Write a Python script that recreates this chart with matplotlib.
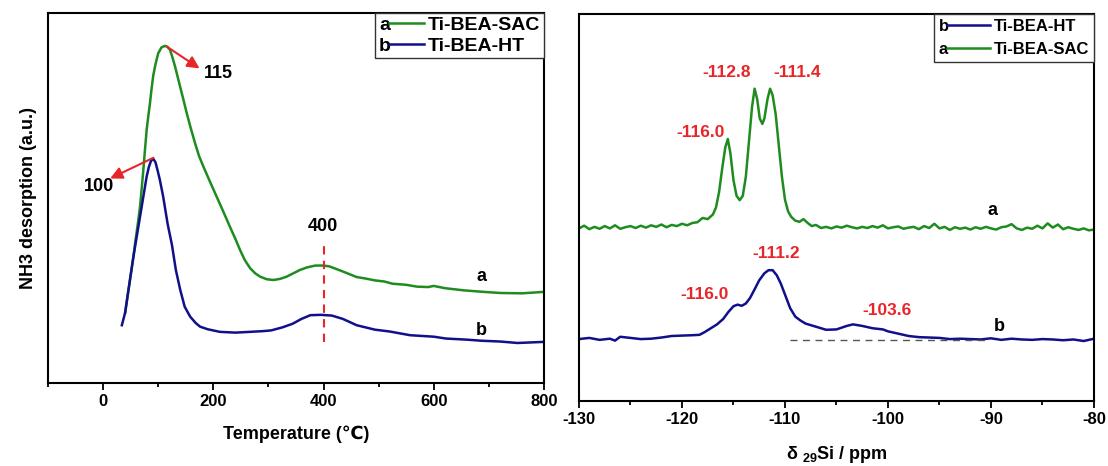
import numpy as np
import matplotlib
matplotlib.use("Agg")
import matplotlib.pyplot as plt
from matplotlib.ticker import MultipleLocator
from matplotlib.legend_handler import HandlerBase
from matplotlib.lines import Line2D
from matplotlib.text import Text

plt.rcParams['font.family'] = ['Liberation Sans', 'DejaVu Sans']
plt.rcParams['font.weight'] = 'bold'
plt.rcParams['axes.labelweight'] = 'bold'
plt.rcParams['axes.unicode_minus'] = False
plt.rcParams['mathtext.fontset'] = 'custom'
plt.rcParams['mathtext.rm'] = 'Liberation Sans:bold'
plt.rcParams['mathtext.default'] = 'rm'

GREEN = '#1e8c1e'
NAVY = '#10108a'
RED = '#e8262a'

# --- NH3-TPD (left panel) ---
tpd_a_T = [40, 46, 55, 58, 63, 67, 70, 73, 76, 79, 82, 85, 88, 91, 95, 100, 106, 112.5,
           117, 121.5, 126, 130.6, 135, 139.7, 146, 151.8, 159, 166.9, 174, 182, 194,
           206, 218, 230, 240, 248.5, 257, 266.7, 276, 285, 297, 309, 321, 333, 345, 357,
           370, 385, 399, 410, 421, 440, 460, 476, 493, 510, 525, 550, 570, 590, 600,
           620, 655, 690, 720, 760, 800]
tpd_a_I = [19, 25.1, 34.1, 37.7, 43, 47.6, 52.5, 57.5, 63, 68.3, 72, 75.5, 79.5, 83, 86,
           89, 90.6, 91.0, 90.7, 89.9, 87.8, 85.4, 82.8, 80.0, 76.3, 72.8, 68.8, 64.7,
           61.3, 58.4, 54.3, 50.3, 46.3, 42.2, 38.9, 35.9, 33.2, 31.0, 29.6, 28.7, 28.0,
           27.8, 28.1, 28.7, 29.6, 30.5, 31.2, 31.7, 31.7, 31.5, 30.9, 29.8, 28.6, 28.2,
           27.7, 27.4, 26.8, 26.5, 26.0, 25.9, 26.2, 25.6, 25, 24.6, 24.3, 24.2, 24.6]

tpd_b_T = [34, 40, 46, 55, 67, 79, 83, 87, 91, 95, 99, 103, 109, 117, 125, 132, 140, 148,
           158, 168, 176, 190, 212, 240, 266, 290, 305, 325, 344, 360, 376, 395, 415,
           435, 460, 493, 520, 557, 600, 622, 660, 687, 720, 752, 800]
tpd_b_I = [15.6, 19, 25.1, 34.1, 44.9, 55.7, 58.3, 60.0, 60.5, 59.6, 57.3, 54.8, 50.3, 43,
           37.2, 30.5, 25.1, 20.6, 17.9, 16.2, 15.2, 14.5, 13.8, 13.6, 13.8, 14.0, 14.2,
           15.0, 16.0, 17.3, 18.3, 18.4, 18.2, 17.3, 15.6, 14.4, 13.9, 12.9, 12.5, 12,
           11.7, 11.4, 11.2, 10.8, 11.1]

# --- 29Si NMR (right panel) ---
nmr_a_ppm = [-130, -129.5, -129, -128.5, -128, -127.5, -127, -126.5, -126, -125.5, -125,
             -124.5, -124, -123.5, -123, -122.5, -122, -121.5, -121, -120.5, -120, -119.5,
             -119, -118.5, -118, -117.5, -117, -116.7, -116.4, -116.1, -115.8, -115.55,
             -115.3, -115.0, -114.7, -114.4, -114.1, -113.8, -113.5, -113.2, -112.95,
             -112.7, -112.45, -112.2, -112.0, -111.7, -111.45, -111.2, -110.9, -110.6,
             -110.3, -110.0, -109.7, -109.4, -109.0, -108.6, -108.2, -107.8, -107.4, -107,
             -106.5, -106, -105.5, -105, -104.5, -104, -103.5, -103, -102.5, -102, -101.5,
             -101, -100.5, -100, -99.5, -99, -98.5, -98, -97.5, -97, -96.5, -96, -95.5,
             -95, -94.5, -94, -93.5, -93, -92.5, -92, -91.5, -91, -90.5, -90, -89.5, -89,
             -88.5, -88, -87.5, -87, -86.5, -86, -85.5, -85, -84.5, -84, -83.5, -83, -82.5,
             -82, -81.5, -81, -80.5, -80]
nmr_a_I = [44.6, 45.3, 44.4, 45.0, 44.5, 45.2, 44.6, 45.4, 44.5, 44.9, 45.2, 44.7, 45.3,
           44.8, 45.4, 45.0, 45.6, 44.9, 45.5, 45.2, 45.8, 45.4, 46.0, 46.2, 47.3, 47.0,
           48.2, 50.0, 54, 60, 65.5, 67.7, 64, 57, 53, 51.9, 53, 58, 67, 76, 80.7, 78, 73,
           71.6, 73, 78, 80.7, 79, 74, 66, 58, 52, 49, 47.6, 46.6, 46.3, 47.0, 46.0, 45.2,
           45.5, 44.7, 45.0, 44.6, 45.1, 44.8, 45.3, 44.9, 44.6, 45.0, 44.7, 45.2, 44.8,
           45.4, 44.6, 44.9, 45.1, 44.5, 44.8, 45.0, 44.4, 45.2, 44.7, 45.8, 44.6, 45.0,
           44.2, 44.9, 44.5, 44.8, 44.3, 44.9, 44.5, 45.0, 44.6, 44.3, 44.9, 45.1, 45.7,
           44.6, 44.2, 44.8, 44.5, 45.3, 44.6, 45.9, 44.8, 45.6, 44.4, 44.9, 44.5, 44.2,
           44.6, 44.1, 44.3]

nmr_b_ppm = [-130, -129, -128, -127, -126.5, -126, -125, -124, -123, -122, -121, -120,
             -119, -118.3, -117.8, -117.2, -116.6, -116, -115.5, -115.0, -114.6, -114.2,
             -113.8, -113.4, -113.0, -112.5, -112.0, -111.6, -111.2, -110.8, -110.4,
             -110.0, -109.5, -109.0, -108.5, -108, -107, -106, -105, -104, -103.4, -102.5,
             -101.5, -100.5, -100, -99, -98, -97, -96, -95, -94, -93, -92, -91, -90, -89,
             -88, -87, -86, -85, -84, -83, -82, -81, -80]
nmr_b_I = [16.0, 16.3, 15.8, 16.1, 15.6, 16.6, 16.3, 16.0, 16.1, 16.4, 16.8, 16.9, 17.0,
           17.1, 17.8, 18.8, 19.8, 21.2, 23.0, 24.5, 24.9, 24.6, 25.2, 26.6, 28.6, 31.2,
           33.0, 33.8, 33.8, 32.5, 30.3, 27.5, 24.0, 21.8, 20.8, 20.0, 19.2, 18.4, 18.5,
           19.4, 19.8, 19.4, 18.8, 18.5, 18.0, 17.4, 16.8, 16.5, 16.4, 16.3, 16.0, 16.1,
           16.0, 15.9, 16.2, 15.8, 16.1, 15.9, 15.8, 16.0, 15.9, 15.7, 15.9, 15.5, 16.1]

nmr_labels = ['-112.8', '-111.4', '-116.0', '-111.2', '-116.0', '-103.6']
nmr_label_x = [-115.7, -108.8, -118.2, -110.85, -117.8, -100.1]
nmr_label_y = [85, 85, 69.3, 38.1, 27.4, 23.4]


class LetterLine(HandlerBase):
    """Legend handle drawn as 'a——' like the Origin export."""
    def __init__(self, letter):
        super().__init__()
        self.letter = letter

    def create_artists(self, legend, orig_handle, xdescent, ydescent, width, height,
                       fontsize, trans):
        y = height / 2 - ydescent
        x0 = -xdescent
        txt = Text(x0, y - 0.36 * fontsize, self.letter, fontsize=fontsize,
                   fontweight='bold', va='baseline', ha='left', transform=trans)
        line = Line2D([x0 + 0.52 * fontsize, x0 + width], [y, y],
                      color=orig_handle.get_color(), lw=orig_handle.get_linewidth(),
                      transform=trans)
        return [txt, line]


def style_axes(ax):
    for s in ax.spines.values():
        s.set_linewidth(1.5)
    ax.set_yticks([])
    ax.tick_params(axis='x', which='major', direction='out', length=5, width=1.3,
                   labelsize=12, pad=3)
    ax.tick_params(axis='x', which='minor', direction='out', length=3, width=1.3)


fig = plt.figure(figsize=(11.08, 4.66), dpi=100)
ax1 = fig.add_axes([0.04332, 0.17811, 0.44765, 0.79506])
ax2 = fig.add_axes([0.52256, 0.13948, 0.46480, 0.83047])

# left: NH3-TPD
la, = ax1.plot(tpd_a_T, tpd_a_I, color=GREEN, lw=1.8)
lb, = ax1.plot(tpd_b_T, tpd_b_I, color=NAVY, lw=1.8)
ax1.set_xlim(-100, 800)
ax1.set_ylim(0, 100)
ax1.xaxis.set_major_locator(MultipleLocator(200))
ax1.xaxis.set_minor_locator(MultipleLocator(100))
style_axes(ax1)
ax1.set_xlabel('Temperature (℃)', fontsize=13, labelpad=12)
ax1.set_ylabel('NH3 desorption (a.u.)', fontsize=13, labelpad=8)

ax1.plot([400, 400], [11.1, 37.2], color=RED, lw=1.5, ls=(0, (4, 3)))
ax1.text(399, 42.2, '400', fontsize=13, ha='center', va='center')
ax1.annotate('', xy=(175, 84.9), xytext=(115.5, 90.8),
             arrowprops=dict(arrowstyle='-|>', color=RED, lw=1.5,
                             mutation_scale=18, shrinkA=0, shrinkB=0))
ax1.text(210, 83.6, '115', fontsize=13, ha='center', va='center')
ax1.annotate('', xy=(12.7, 55.2), xytext=(91.3, 60.8),
             arrowprops=dict(arrowstyle='-|>', color=RED, lw=1.5,
                             mutation_scale=18, shrinkA=0, shrinkB=0))
ax1.text(-7.3, 53, '100', fontsize=13, ha='center', va='center')
ax1.text(686, 28.7, 'a', fontsize=13, ha='center', va='center')
ax1.text(687, 14.3, 'b', fontsize=13, ha='center', va='center')

leg1 = ax1.legend([la, lb], ['Ti-BEA-SAC', 'Ti-BEA-HT'], loc='upper right',
                  handler_map={la: LetterLine('a'), lb: LetterLine('b')},
                  fontsize=14, handlelength=2.3, handletextpad=0.2,
                  labelspacing=0.15, borderpad=0.2, borderaxespad=0,
                  fancybox=False, framealpha=1, edgecolor='#333333')
leg1.get_frame().set_linewidth(1.0)

# right: 29Si MAS NMR
ra, = ax2.plot(nmr_a_ppm, nmr_a_I, color=GREEN, lw=1.8)
rb, = ax2.plot(nmr_b_ppm, nmr_b_I, color=NAVY, lw=1.8)
ax2.plot([-109.5, -90.1], [15.8, 15.8], color='#555555', lw=1.0, ls=(0, (5, 4)))
ax2.set_xlim(-130, -80)
ax2.set_ylim(0, 100)
ax2.xaxis.set_major_locator(MultipleLocator(10))
ax2.xaxis.set_minor_locator(MultipleLocator(5))
style_axes(ax2)
ax2.set_xlabel('δ $_{29}$Si / ppm', fontsize=13, labelpad=12)

for x, y, s in zip(nmr_label_x, nmr_label_y, nmr_labels):
    ax2.text(x, y, s, color=RED, fontsize=12.5, ha='center', va='center')
ax2.text(-89.9, 49.1, 'a', fontsize=13, ha='center', va='center')
ax2.text(-89.2, 19.2, 'b', fontsize=13, ha='center', va='center')

leg2 = ax2.legend([rb, ra], ['Ti-BEA-HT', 'Ti-BEA-SAC'], loc='upper right',
                  handler_map={ra: LetterLine('a'), rb: LetterLine('b')},
                  fontsize=12, handlelength=3.1, handletextpad=0.2,
                  labelspacing=0.45, borderpad=0.3, borderaxespad=0,
                  fancybox=False, framealpha=1, edgecolor='#333333')
leg2.get_frame().set_linewidth(1.0)

fig.savefig('out.png', dpi=100, facecolor='white')
